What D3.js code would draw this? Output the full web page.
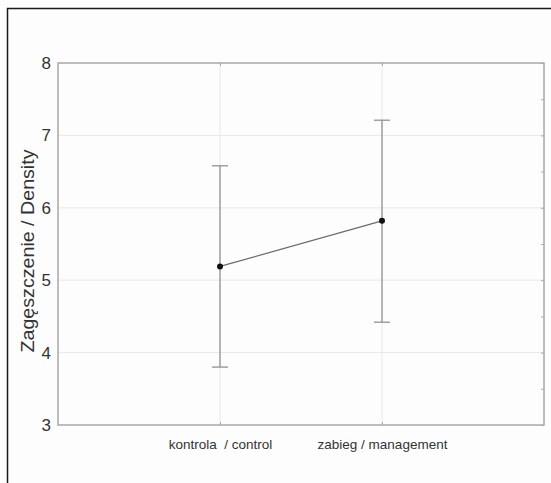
<!DOCTYPE html>
<html>
<head>
<meta charset="utf-8">
<script src="https://cdn.jsdelivr.net/npm/d3@7"></script>
<style>
  html, body { margin: 0; padding: 0; background: #fff; }
  svg { display: block; }
</style>
</head>
<body>
<svg id="chart" width="551" height="483"></svg>
<script>
const categories = ["kontrola  / control", "zabieg / management"];
const means = [5.19, 5.82];
const lower = [3.80, 4.42];
const upper = [6.58, 7.21];
const yTicks = [3, 4, 5, 6, 7, 8];
const yMinorTicks = [3, 3.5, 4, 4.5, 5, 5.5, 6, 6.5, 7, 7.5, 8];
const yLabel = "Zagęszczenie / Density";

const svg = d3.select("#chart");
const W = 551, H = 483;
const m = { left: 58, top: 63, right: 544, bottom: 425 };

svg.append("rect").attr("width", W).attr("height", H).attr("fill", "#fdfdfd");
// outer frame (extends beyond the picture on right and bottom)
svg.append("rect").attr("x", 7.5).attr("y", 8.5).attr("width", 600).attr("height", 600)
  .attr("fill", "none").attr("stroke", "#1a1a1a").attr("stroke-width", 1.5);

const x = d3.scalePoint().domain(categories).range([m.left, m.right]).padding(1);
const y = d3.scaleLinear().domain([3, 8]).range([m.bottom, m.top]);

const font = "Liberation Sans, Arial, sans-serif";

// grid
const grid = svg.append("g");
grid.selectAll("line.h").data(yTicks.slice(1, -1)).join("line")
  .attr("x1", m.left).attr("x2", m.right)
  .attr("y1", d => y(d)).attr("y2", d => y(d))
  .attr("stroke", "#e8e8e8").attr("stroke-width", 1);
grid.selectAll("line.v").data(categories).join("line")
  .attr("x1", d => x(d)).attr("x2", d => x(d))
  .attr("y1", m.top).attr("y2", m.bottom)
  .attr("stroke", "#e8e8e8").attr("stroke-width", 1);

// plot border
svg.append("rect").attr("x", m.left).attr("y", m.top)
  .attr("width", m.right - m.left).attr("height", m.bottom - m.top)
  .attr("fill", "none").attr("stroke", "#a8a8a8").attr("stroke-width", 1.5);

// left axis labels
const yAxis = d3.axisLeft(y).tickValues(yTicks).tickSize(0).tickPadding(7).tickFormat(d3.format("d"));
const gy = svg.append("g").attr("transform", `translate(${m.left},0)`).call(yAxis);
gy.select(".domain").remove();
gy.selectAll("text").attr("font-family", font).attr("font-size", 17).attr("fill", "#333");

// right axis minor ticks (inward)
const yRight = d3.axisLeft(y).tickValues(yMinorTicks).tickSize(3).tickFormat("");
const gr = svg.append("g").attr("transform", `translate(${m.right},0)`).call(yRight);
gr.select(".domain").remove();
gr.selectAll("line").attr("stroke", "#aaaaaa");

// x axis labels
const xAxis = d3.axisBottom(x).tickSize(3).tickPadding(11);
const gx = svg.append("g").attr("transform", `translate(0,${m.bottom})`).call(xAxis);
gx.select(".domain").remove();
gx.selectAll("line").attr("stroke", "#aaaaaa").attr("transform", "translate(0,-3)");
gx.selectAll("text").attr("font-family", font).attr("font-size", 13.5).attr("fill", "#333")
  .style("white-space", "pre");
const xTop = d3.axisBottom(x).tickSize(3).tickFormat("");
const gt = svg.append("g").attr("transform", `translate(0,${m.top})`).call(xTop);
gt.select(".domain").remove();
gt.selectAll("line").attr("stroke", "#aaaaaa");

// y label
svg.append("text")
  .attr("transform", `translate(34,251) rotate(-90)`)
  .attr("text-anchor", "middle")
  .attr("font-family", font).attr("font-size", 18).attr("fill", "#333")
  .attr("textLength", 203).attr("lengthAdjust", "spacingAndGlyphs")
  .text(yLabel);

// error bars
const data = categories.map((c, i) => ({ c, mean: means[i], lo: lower[i], hi: upper[i] }));
const eb = svg.append("g").attr("stroke", "#8a8a8a").attr("stroke-width", 1.2);
eb.selectAll("line.stem").data(data).join("line")
  .attr("x1", d => x(d.c)).attr("x2", d => x(d.c))
  .attr("y1", d => y(d.lo)).attr("y2", d => y(d.hi));
eb.selectAll("line.capHi").data(data).join("line")
  .attr("x1", d => x(d.c) - 8).attr("x2", d => x(d.c) + 8)
  .attr("y1", d => y(d.hi)).attr("y2", d => y(d.hi));
eb.selectAll("line.capLo").data(data).join("line")
  .attr("x1", d => x(d.c) - 8).attr("x2", d => x(d.c) + 8)
  .attr("y1", d => y(d.lo)).attr("y2", d => y(d.lo));

// mean line
svg.append("path").datum(data)
  .attr("d", d3.line().x(d => x(d.c)).y(d => y(d.mean)))
  .attr("fill", "none").attr("stroke", "#6a6a6a").attr("stroke-width", 1.2);

svg.selectAll("circle.pt").data(data).join("circle")
  .attr("cx", d => x(d.c)).attr("cy", d => y(d.mean)).attr("r", 3)
  .attr("fill", "#111");
</script>
</body>
</html>
